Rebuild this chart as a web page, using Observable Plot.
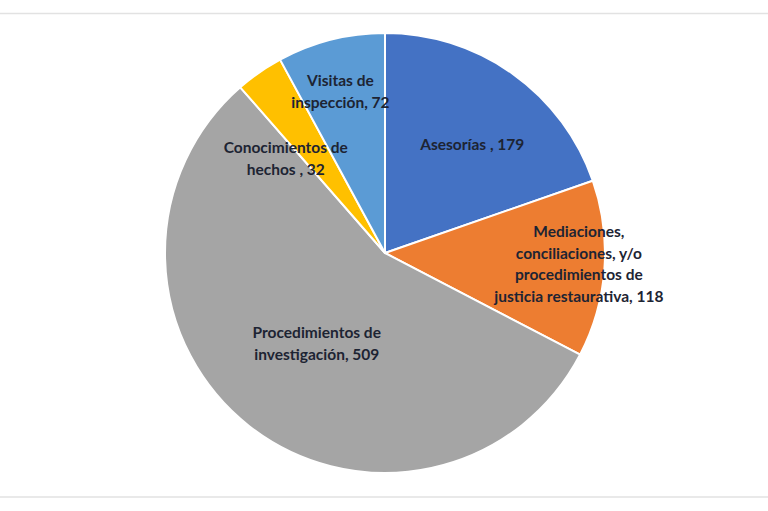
<!DOCTYPE html>
<html>
<head>
<meta charset="utf-8">
<script src="https://cdn.jsdelivr.net/npm/d3@7"></script>
<script src="https://cdn.jsdelivr.net/npm/@observablehq/plot@0.6"></script>
<style>
  html, body { margin: 0; padding: 0; background: #ffffff; }
  #chart { width: 768px; height: 511px; }
</style>
</head>
<body>
<div id="chart"></div>
<script>
// Data
const categories = [
  "Asesorías",
  "Mediaciones, conciliaciones, y/o procedimientos de justicia restaurativa",
  "Procedimientos de investigación",
  "Conocimientos de hechos",
  "Visitas de inspección"
];
const values = [179, 118, 509, 32, 72];
const labels = [
  "Asesorías , 179",
  "Mediaciones,\nconciliaciones, y/o\nprocedimientos de\njusticia restaurativa, 118",
  "Procedimientos de\ninvestigación, 509",
  "Conocimientos de\nhechos , 32",
  "Visitas de\ninspección, 72"
];
const colors = ["#4472C4", "#ED7D31", "#A5A5A5", "#FFC000", "#5B9BD5"];
// label placement: fraction of radius, and angular nudge (degrees) from slice mid-angle
const labelRadius = [0.64, 0.88, 0.51, 0.63, 0.77];
const labelShift = [2.6, -1.5, -0.4, -11.2, -1.2];

const W = 768, H = 511;
const R = 220, CX = 385, CY = 253;

const pie = d3.pie().sort(null).value(d => d.value).startAngle(0).endAngle(2 * Math.PI);
const rows = categories.map((c, i) => ({
  category: c, value: values[i], label: labels[i], color: colors[i],
  lr: labelRadius[i], ls: labelShift[i]
}));
const arcs = pie(rows);
const labelRows = arcs.map(a => {
  const mid = (a.startAngle + a.endAngle) / 2 + a.data.ls * Math.PI / 180;
  return { label: a.data.label, lx: a.data.lr * Math.sin(mid), ly: a.data.lr * Math.cos(mid) };
});

function pieMark(index, scales) {
  const x = scales.x, y = scales.y;
  const cx = x(0), cy = y(0);
  const r = Math.abs(x(1) - x(0));
  const arc = d3.arc().innerRadius(0).outerRadius(r);
  const g = d3.create("svg:g").attr("transform", `translate(${cx},${cy})`);
  g.selectAll("path")
    .data(arcs)
    .join("path")
    .attr("d", arc)
    .attr("fill", d => d.data.color)
    .attr("stroke", "#ffffff")
    .attr("stroke-width", 2)
    .attr("stroke-linejoin", "round");
  return g.node();
}

const chart = Plot.plot({
  width: W,
  height: H,
  margin: 0,
  style: { background: "#ffffff", fontFamily: "Lato, 'Open Sans', sans-serif" },
  x: { domain: [-CX / R, (W - CX) / R], range: [0, W], axis: null },
  y: { domain: [-(H - CY) / R, CY / R], range: [H, 0], axis: null },
  marks: [
    Plot.frame({ anchor: "top", insetTop: 13, stroke: "#e2e2e2", strokeWidth: 1.5 }),
    Plot.frame({ anchor: "bottom", insetBottom: 14.5, stroke: "#e2e2e2", strokeWidth: 1.5 }),
    pieMark,
    Plot.text(labelRows, {
      x: "lx", y: "ly", text: "label",
      fontSize: 15.5, fontWeight: "bold", fill: "#1d2433",
      lineHeight: 1.4, textAnchor: "middle"
    })
  ]
});
document.getElementById("chart").appendChild(chart);
</script>
</body>
</html>
